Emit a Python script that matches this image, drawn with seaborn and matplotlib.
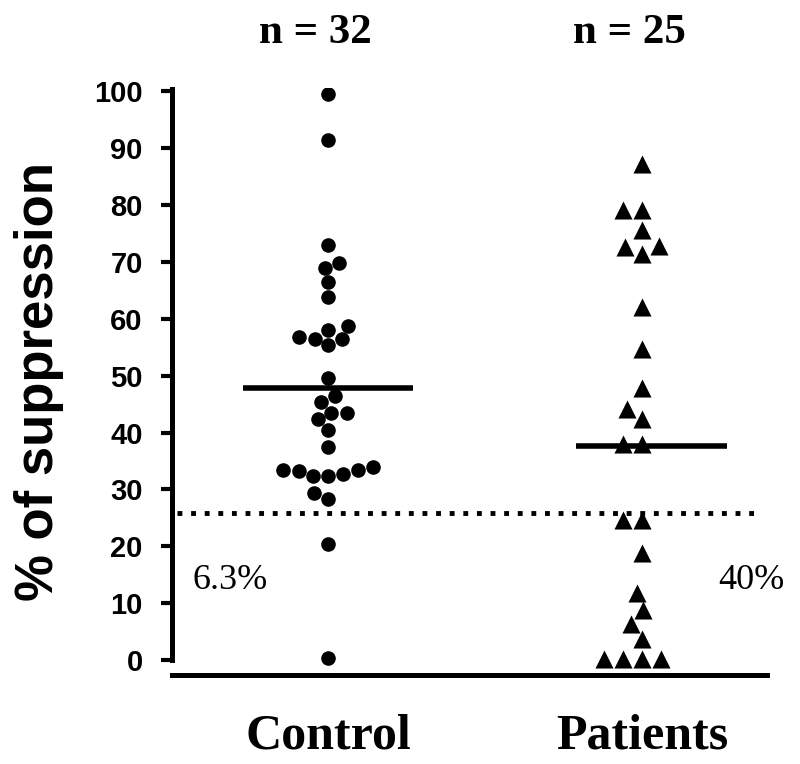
import numpy as np
import pandas as pd
import matplotlib
matplotlib.use("Agg")
import matplotlib.pyplot as plt
import seaborn as sns

# values (% of suppression)
control = [99.5, 91.4, 73.0, 69.8, 69.0, 66.5, 63.9, 58.8, 58.0, 56.5, 56.8, 56.5, 55.3,
           49.6, 46.5, 45.4, 42.3, 43.5, 43.5, 40.4, 37.4, 32.3, 32.3, 32.8, 33.5, 33.5,
           33.9, 33.3, 29.3, 28.4, 20.4, 0.3]
patients = [87.2, 79.1, 79.1, 75.6, 72.6, 72.8, 71.4, 62.0, 54.7, 47.9, 44.2, 42.4,
            38.0, 38.0, 24.6, 24.6, 18.8, 11.8, 8.8, 6.3, 3.7, 0.2, 0.2, 0.2, 0.2]
groups = ["Control", "Patients"]
means = [47.9, 37.7]
cutoff = 25.8
n_labels = ["n = 32", "n = 25"]
pct_labels = ["6.3%", "40%"]

df = pd.DataFrame({
    "group": ["Control"] * len(control) + ["Patients"] * len(patients),
    "value": control + patients,
})

sns.set_style("ticks", {"axes.edgecolor": "black", "text.color": "black",
                        "xtick.color": "black", "ytick.color": "black",
                        "axes.labelcolor": "black"})
plt.rcParams["font.family"] = ["Liberation Sans", "DejaVu Sans"]

fig = plt.figure(figsize=(8, 7.64), dpi=100)
ax = fig.add_axes([0.215, 0.1165, 0.744, 0.768])

sns.swarmplot(data=df[df.group == "Control"], x="group", y="value", order=groups,
              marker="o", color="black", size=10.5, ax=ax)
sns.swarmplot(data=df[df.group == "Patients"], x="group", y="value", order=groups,
              marker="^", color="black", size=13, ax=ax)

# mean lines
ax.hlines(means, [-0.27, 0.79], [0.27, 1.27], color="black", lw=4, zorder=3)
# cut-off line
ax.hlines(cutoff, -0.48, 1.37, color="black", lw=3.5, linestyle=(0, (1, 1.8)), zorder=1)

ax.set_xlim(-0.497, 1.398)
ax.set_ylim(-2.6, 100.5)
ax.set_yticks(range(0, 101, 10))
ax.set_xlabel("")
ax.set_ylabel("% of suppression", fontsize=38, fontweight="bold", labelpad=22)

for s in ["top", "right"]:
    ax.spines[s].set_visible(False)
ax.spines["left"].set_linewidth(3.6)
ax.spines["left"].set_bounds(0, 100.4)
ax.spines["bottom"].set_linewidth(3.6)

ax.tick_params(axis="y", length=8, width=3, pad=13, labelsize=21)
for t in ax.get_yticklabels():
    t.set_fontweight("bold")
ax.tick_params(axis="x", length=0, pad=28)
ax.set_xticks([0, 1])
ax.set_xticklabels(groups, fontsize=36, fontweight="bold", family="Liberation Serif")

for i, lab in enumerate(n_labels):
    ax.text(i - 0.04, 110.2, lab, ha="center", va="center", fontsize=31,
            fontweight="bold", family="Liberation Serif", clip_on=False)

ax.text(-0.433, 14, pct_labels[0], ha="left", va="center", fontsize=26,
        family="Liberation Serif", clip_on=False)
ax.text(1.242, 14, pct_labels[1], ha="left", va="center", fontsize=26,
        family="Liberation Serif", clip_on=False)

fig.savefig("out.png", dpi=100)
